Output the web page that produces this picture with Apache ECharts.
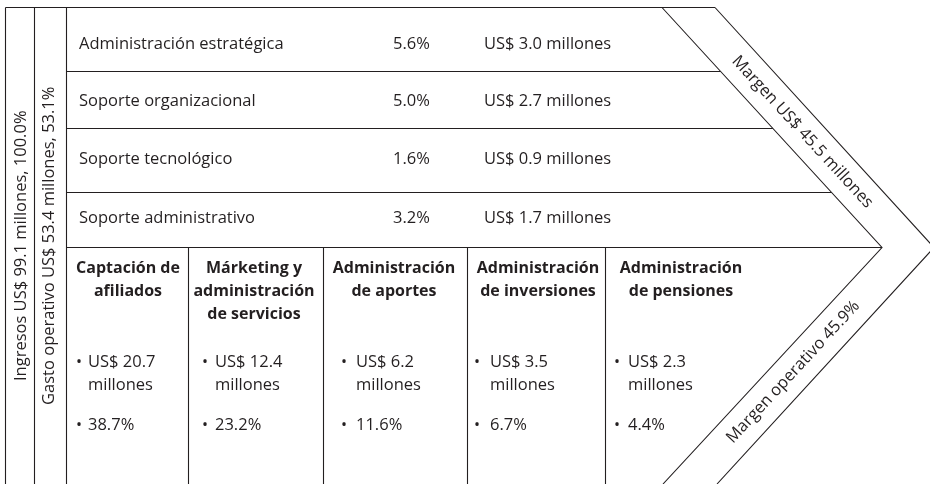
<!DOCTYPE html>
<html>
<head>
<meta charset="utf-8">
<script src="https://cdn.jsdelivr.net/npm/echarts@6/dist/echarts.min.js"></script>
<style>
html,body{margin:0;padding:0;background:#fff;}
#chart{width:930px;height:484px;}
</style>
</head>
<body>
<div id="chart"></div>
<script>
// ---- data ----
const leftLabels = ['Ingresos US$ 99.1 millones, 100.0%', 'Gasto operativo US$ 53.4 millones, 53.1%'];
const supportNames = ['Administración estratégica', 'Soporte organizacional', 'Soporte tecnológico', 'Soporte administrativo'];
const supportPct = ['5.6%', '5.0%', '1.6%', '3.2%'];
const supportAmt = ['US$ 3.0 millones', 'US$ 2.7 millones', 'US$ 0.9 millones', 'US$ 1.7 millones'];
const primaryNames = ['Captación de\nafiliados', 'Márketing y\nadministración\nde servicios', 'Administración\nde aportes', 'Administración\nde inversiones', 'Administración\nde pensiones'];
const primaryAmt = ['US$ 20.7\nmillones', 'US$ 12.4\nmillones', 'US$ 6.2\nmillones', 'US$ 3.5\nmillones', 'US$ 2.3\nmillones'];
const primaryPct = ['38.7%', '23.2%', '11.6%', '6.7%', '4.4%'];
const marginLabels = ['Margen US$ 45.5 millones', 'Margen operativo 45.9%'];

// ---- layout (positions / styles) ----
const INK = '#231f20';
const FONT = '16.5px "Open Sans"';
const BFONT = 'bold 16px "Open Sans"';
const BULLETFONT = '16px "Open Sans"';
const TOP = 7.5, BOTTOM = 484;
const leftCols = [5.5, 34.5, 66.5];
const leftTextX = [21, 49];
const rowLines = [71.5, 128.5, 192.5, 247.5];
const rowTextY = [44, 101, 159, 218];
const nameX = 79, pctX = 393, amtX = 484;
const colLines = [188.5, 323.5, 467.5, 605.5];
const headCX = [128, 254, 394, 538, 681];
const headY0 = 268, headLH = 23;
const bulletX = [76, 202, 341, 474, 614];
const valX = [88, 215, 356, 490, 628];
const amtY0 = 362, pctY = 425;
const inner = [[662, 7.5], [882, 247.5], [663, 484]];
const outer = [[715, 7.5], [934, 247.5], [717, 484]];

function xOnSeg(p, q, y) { return p[0] + (q[0] - p[0]) * (y - p[1]) / (q[1] - p[1]); }

const els = [];
const lineStyle = { stroke: INK, lineWidth: 1.1 };
function line(x1, y1, x2, y2) {
  els.push({ type: 'line', shape: { x1, y1, x2, y2 }, style: lineStyle, silent: true });
}
function text(t, x, y, font, align, rot) {
  els.push({
    type: 'text', x: x, y: y, rotation: rot || 0, silent: true,
    style: { text: t, x: 0, y: 0, font: font, fill: INK,
      align: align, verticalAlign: 'middle', textAlign: align, textVerticalAlign: 'middle' }
  });
}

// frame
leftCols.forEach(x => line(x, TOP, x, BOTTOM));
line(leftCols[0], TOP, outer[0][0], TOP);
rowLines.forEach(y => line(leftCols[2], y, xOnSeg(inner[0], inner[1], y), y));
colLines.forEach(x => line(x, rowLines[3], x, BOTTOM));
els.push({ type: 'polyline', shape: { points: inner }, style: Object.assign({ fill: null }, lineStyle), silent: true });
els.push({ type: 'polyline', shape: { points: outer }, style: Object.assign({ fill: null }, lineStyle), silent: true });

// left rotated labels
const midY = (TOP + BOTTOM) / 2;
leftLabels.forEach((t, i) => text(t, leftTextX[i], midY, FONT, 'center', Math.PI / 2));

// support activities
supportNames.forEach((n, i) => {
  text(n, nameX, rowTextY[i], FONT, 'left');
  text(supportPct[i], pctX, rowTextY[i], FONT, 'left');
  text(supportAmt[i], amtX, rowTextY[i], FONT, 'left');
});

// primary activities
primaryNames.forEach((n, i) => {
  n.split('\n').forEach((ln, k) => text(ln, headCX[i], headY0 + k * headLH, BFONT, 'center'));
  text('•', bulletX[i], amtY0, BULLETFONT, 'left');
  primaryAmt[i].split('\n').forEach((ln, k) => text(ln, valX[i], amtY0 + k * headLH, FONT, 'left'));
  text('•', bulletX[i], pctY, BULLETFONT, 'left');
  text(primaryPct[i], valX[i], pctY, FONT, 'left');
});

// margin labels
const upY = 132, loY = 372;
const upX = (xOnSeg(inner[0], inner[1], upY) + xOnSeg(outer[0], outer[1], upY)) / 2;
const loX = (xOnSeg(inner[1], inner[2], loY) + xOnSeg(outer[1], outer[2], loY)) / 2;
const angUp = Math.atan2(inner[1][1] - inner[0][1], inner[1][0] - inner[0][0]);
const angLo = Math.atan2(inner[2][1] - inner[1][1], inner[1][0] - inner[2][0]);
text(marginLabels[0], upX, upY, FONT, 'center', -angUp);
text(marginLabels[1], loX, loY, FONT, 'center', angLo);

const chart = echarts.init(document.getElementById('chart'), null, { renderer: 'canvas' });
chart.setOption({ animation: false, graphic: { elements: els } });
</script>
</body>
</html>
